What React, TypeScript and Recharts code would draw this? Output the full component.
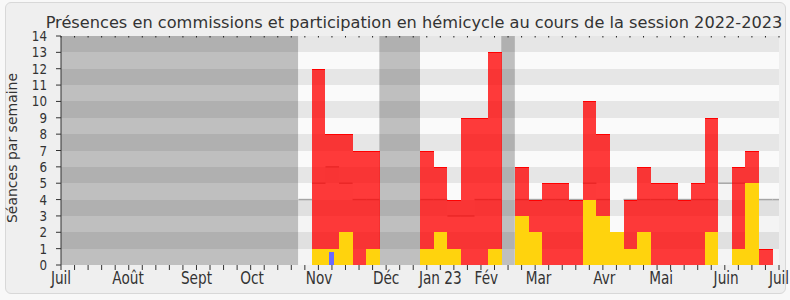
import React from "react";
import {
  ComposedChart,
  Bar,
  XAxis,
  YAxis,
  CartesianGrid,
  ReferenceArea,
} from "recharts";

// one value per week, week 0 = début juillet 2022
const presences = [
  0, 0, 0, 0, 0, 0, 0, 0, 0, 0, 0, 0, 0, 0, 0, 0, 0, 0, 0,
  12, 8, 8, 7, 7, 0, 0, 0, 7, 6, 4, 9, 9, 13, 0,
  6, 4, 5, 5, 4, 10, 8, 0, 4, 6, 5, 5, 4, 5, 9, 0, 6, 7, 1, 0,
];
const participations = [
  0, 0, 0, 0, 0, 0, 0, 0, 0, 0, 0, 0, 0, 0, 0, 0, 0, 0, 0,
  1, 1, 2, 0, 1, 0, 0, 0, 1, 2, 1, 0, 0, 1, 0,
  3, 2, 0, 0, 0, 4, 3, 2, 1, 2, 0, 0, 0, 0, 2, 0, 1, 5, 0, 0,
];
const questions = [
  0, 0, 0, 0, 0, 0, 0, 0, 0, 0, 0, 0, 0, 0, 0, 0, 0, 0, 0,
  0, 0.8, 0, 0, 0, 0, 0, 0, 0, 0, 0, 0, 0, 0, 0,
  0, 0, 0, 0, 0, 0, 0, 0, 0, 0, 0, 0, 0, 0, 0, 0, 0, 0, 0, 0,
];
const medians: (number | null)[] = [
  null, null, null, null, null, null, null, null, null, null, null, null,
  null, null, null, null, null, null, 4,
  5, 6, 5, 4, 4, null, null, null, 4, 4, 3, 3, 4, 4, null,
  4, 4, 4, 4, 4, 5, 4, null, 4, 4, 4, 4, 4, 4, 4, 5, 5, 4, 4, 4,
];

// vacances parlementaires, en semaines
const vacations = [
  [0, 17.5],
  [23.5, 26.5],
  [32.5, 33.5],
];

const monthLabels = ["Juil", "Août", "Sept", "Oct", "Nov", "Déc", "Jan 23", "Fév", "Mar", "Avr", "Mai", "Juin", "Juil"];
const monthTicks = [0, 4.95, 10, 14.1, 19.05, 24, 28, 31.4, 35.25, 40.1, 44.3, 49.1, 53];
const yTicks = [0, 1, 2, 3, 4, 5, 6, 7, 8, 9, 10, 11, 12, 13, 14];

const title = "Présences en commissions et participation en hémicycle au cours de la session 2022-2023";

const data = presences.map((p, i) => ({
  week: i,
  presence: p,
  participation: participations[i],
  question: questions[i],
  median: medians[i],
}));

const weekTicks = data.map((d) => d.week);
const bottomTicks = Array.from(new Set([...weekTicks, ...monthTicks])).sort((a, b) => a - b);

const WIDTH = 790;
const HEIGHT = 300;
const MARGIN = { top: 34, right: 11, bottom: 0, left: 0 };
const Y_AXIS_W = 61;
const X_AXIS_H = 35;
const PLOT_TOP = MARGIN.top + 2;
const PLOT_BOTTOM = HEIGHT - MARGIN.bottom - X_AXIS_H;
const WEEK_W = (WIDTH - MARGIN.left - MARGIN.right - Y_AXIS_W) / 53;
const FONT = "DejaVu Sans";
const INK = "#333";

// recentre chaque barre sur sa semaine, pleine largeur
const span = (p: any, w: number) => {
  const cx = p.x + p.width / 2;
  return { x: cx - w / 2, width: w };
};

const RedShape = (p: any) => {
  const { y, height } = p;
  if (!height || height <= 0) return null;
  const { x, width } = span(p, WEEK_W);
  return (
    <g>
      <rect x={x} y={y} width={width} height={height} fill="#ff0000" fillOpacity={0.77} shapeRendering="crispEdges" />
      <line x1={x} x2={x + width} y1={y + 0.5} y2={y + 0.5} stroke="#ff0000" strokeWidth={1} shapeRendering="crispEdges" />
    </g>
  );
};

const MedianShape = (p: any) => {
  const { y, height } = p;
  if (!height || height <= 0) return null;
  const { x, width } = span(p, WEEK_W);
  return (
    <g>
      <rect x={x} y={y} width={width} height={height} fill="#000" fillOpacity={0.025} shapeRendering="crispEdges" />
      <line x1={x} x2={x + width} y1={y} y2={y} stroke="#a6a6a6" strokeWidth={1.5} />
    </g>
  );
};

const flatShape = (color: string, w: number) => (p: any) => {
  const { y, height } = p;
  if (!height || height <= 0) return null;
  const { x, width } = span(p, w);
  return <rect x={x} y={y} width={width} height={height} fill={color} shapeRendering="crispEdges" />;
};

const BottomTick = (props: any) => {
  const { x, payload } = props;
  const v = payload.value;
  const idx = monthTicks.indexOf(v);
  return (
    <g>
      {Number.isInteger(v) && <line x1={x} x2={x} y1={PLOT_BOTTOM} y2={PLOT_BOTTOM + 5} stroke={INK} />}
      {idx >= 0 && (
        <text
          transform={`translate(${x},${PLOT_BOTTOM + 19}) scale(0.78,1)`}
          textAnchor="middle"
          fontSize={17.5}
          fontFamily={FONT}
          fill={INK}
        >
          {monthLabels[idx]}
        </text>
      )}
    </g>
  );
};

const TopTick = (props: any) => {
  const { x } = props;
  return <rect x={x - 0.5} y={PLOT_TOP} width={1} height={1.5} fill="#222" />;
};

const LeftTick = (props: any) => {
  const { x, y, payload } = props;
  return (
    <text
      transform={`translate(${x},${y + 5}) scale(0.85,1)`}
      textAnchor="end"
      fontSize={14}
      fontFamily={FONT}
      fill={INK}
    >
      {payload.value}
    </text>
  );
};

export default function App() {
  return (
    <div style={{ position: "fixed", left: 0, top: 0, width: WIDTH, height: HEIGHT, background: "#f8f8f8", fontFamily: FONT }}>
      <div
        style={{
          position: "absolute",
          left: 5,
          top: 2,
          width: 779,
          height: 290,
          border: "1px solid #d8d8d8",
          borderRadius: 6,
          background: "#efefef",
        }}
      />
      <svg width={WIDTH} height={HEIGHT} style={{ position: "absolute", left: 0, top: 0 }}>
        <text x={414} y={28} textAnchor="middle" fontSize={16.2} fontFamily={FONT} fill={INK}>
          {title}
        </text>
        <text transform="translate(16.5,148) rotate(-90)" textAnchor="middle" fontSize={14} fontFamily={FONT} fill={INK}>
          Séances par semaine
        </text>
      </svg>
      <div style={{ position: "absolute", left: 0, top: 0 }}>
        <ComposedChart width={WIDTH} height={HEIGHT} data={data} margin={MARGIN}>
          <CartesianGrid vertical={false} stroke="transparent" horizontalFill={["#e6e6e6", "#fafafa"]} xAxisId="weeks" />
          <XAxis
            xAxisId="weeks"
            type="number"
            dataKey="week"
            domain={[0, 53]}
            ticks={bottomTicks}
            interval={0}
            height={X_AXIS_H}
            tickSize={0}
            tickMargin={0}
            tickLine={false}
            tick={<BottomTick />}
            axisLine={{ stroke: INK }}
          />
          <XAxis
            xAxisId="top"
            orientation="top"
            type="number"
            dataKey="week"
            domain={[0, 53]}
            ticks={weekTicks}
            interval={0}
            height={2}
            tickSize={0}
            tickMargin={0}
            tickLine={false}
            tick={<TopTick />}
            axisLine={false}
          />
          <XAxis xAxisId="med" type="number" dataKey="week" domain={[0, 53]} hide allowDataOverflow />
          <XAxis xAxisId="red" type="number" dataKey="week" domain={[0, 53]} hide allowDataOverflow />
          <XAxis xAxisId="yel" type="number" dataKey="week" domain={[0, 53]} hide allowDataOverflow />
          <XAxis xAxisId="blue" type="number" dataKey="week" domain={[0, 53]} hide allowDataOverflow />
          <YAxis
            type="number"
            domain={[0, 14]}
            ticks={yTicks}
            interval={0}
            width={Y_AXIS_W}
            tickSize={5}
            tickMargin={9}
            tick={<LeftTick />}
            tickLine={{ stroke: INK }}
            axisLine={{ stroke: INK }}
          />
          {vacations.map(([a, b]) => (
            <ReferenceArea
              key={a}
              xAxisId="weeks"
              x1={a}
              x2={b}
              y1={0}
              y2={14}
              fill="#000"
              fillOpacity={0.235}
              stroke="none"
            />
          ))}
          <Bar xAxisId="med" dataKey="median" barSize={WEEK_W} shape={MedianShape} isAnimationActive={false} />
          <Bar xAxisId="red" dataKey="presence" barSize={WEEK_W} shape={RedShape} isAnimationActive={false} />
          <Bar xAxisId="yel" dataKey="participation" barSize={WEEK_W} shape={flatShape("#ffd30d", WEEK_W)} isAnimationActive={false} />
          <Bar xAxisId="blue" dataKey="question" barSize={5} shape={flatShape("#6a6aff", 5)} isAnimationActive={false} />
        </ComposedChart>
      </div>
    </div>
  );
}
